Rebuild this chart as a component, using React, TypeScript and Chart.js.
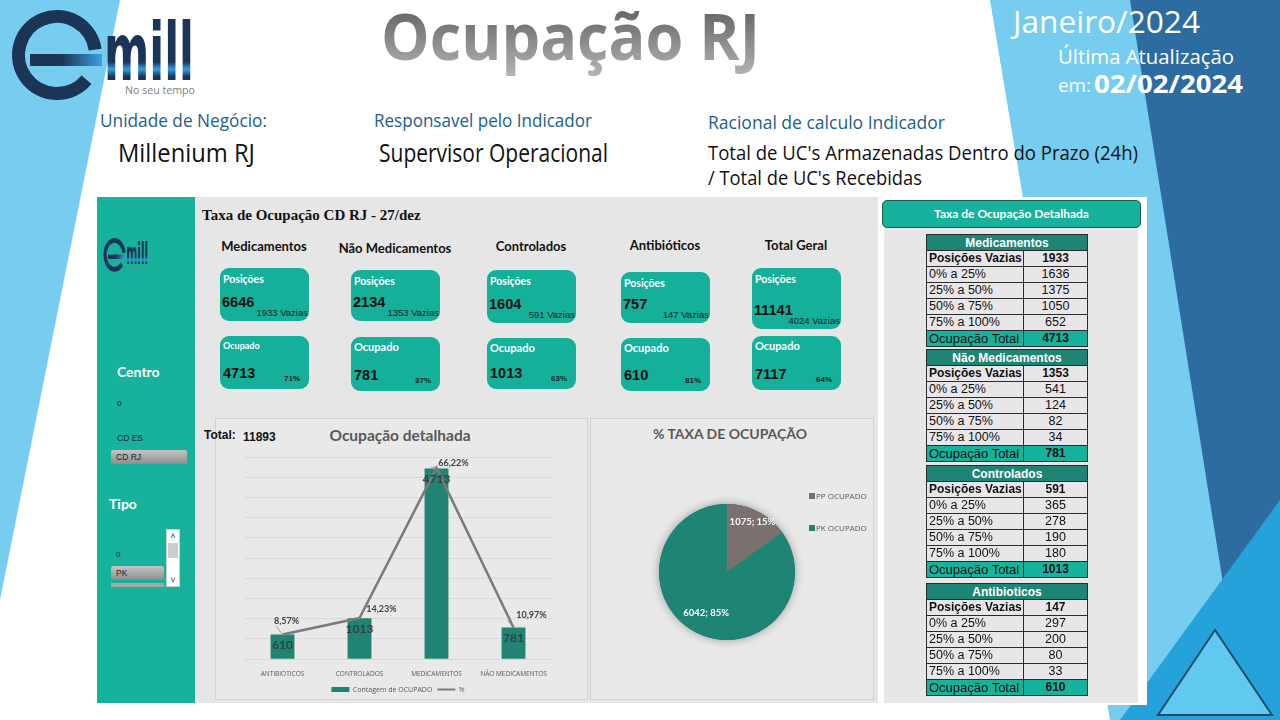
import React, { useEffect, useRef } from 'react';
import { Chart, registerables } from 'chart.js';
Chart.register(...registerables);

// ---------------- data ----------------
const chartCategories = ['ANTIBIOTICOS', 'CONTROLADOS', 'MEDICAMENTOS', 'NÃO MEDICAMENTOS'];
const ocupadoCounts = [610, 1013, 4713, 781];
const ocupadoPercent = [8.57, 14.23, 66.22, 10.97];
const totalGeral = 11893;

const pieLabels = ['PP OCUPADO', 'PK OCUPADO'];
const pieValues = [1075, 6042];

const cardTitles = ['Medicamentos', 'Não Medicamentos', 'Controlados', 'Antibióticos', 'Total Geral'];
const cardPosicoes = [6646, 2134, 1604, 757, 11141];
const cardVazias = [1933, 1353, 591, 147, 4024];
const cardOcupado = [4713, 781, 1013, 610, 7117];
const cardPct = ['71%', '37%', '63%', '81%', '64%'];

const tableNames = ['Medicamentos', 'Não Medicamentos', 'Controlados', 'Antibioticos'];
const tableVazias = [1933, 1353, 591, 147];
const rangeLabels = ['0% a 25%', '25% a 50%', '50% a 75%', '75% a 100%'];
const tableRanges = [
  [1636, 1375, 1050, 652],
  [541, 124, 82, 34],
  [365, 278, 190, 180],
  [297, 200, 80, 33],
];
const tableTotals = [4713, 781, 1013, 610];

// ---------------- styles ----------------
const LATO = "Lato, 'Open Sans', sans-serif";
const ARIAL = "'Liberation Sans', Arial, sans-serif";
const OPEN = "'Open Sans', 'Noto Sans', sans-serif";
const TEAL = '#17B29C';
const CARD = '#14B09A';
const DARK_TEAL = '#1E8474';
const BAR = '#1F8474';
const GRAYTXT = '#595959';

Chart.defaults.font.family = LATO;

type P = React.CSSProperties;
const box = (l: number, t: number, w: number, h: number, extra: P = {}): P => ({
  position: 'absolute', left: l, top: t, width: w, height: h, boxSizing: 'border-box', ...extra,
});

function Txt({ x, y, size, children, family = LATO, weight = 400, color = '#000', align = 'left', style = {} }: any) {
  const tx = align === 'center' ? '-50%' : align === 'right' ? '-100%' : '0';
  return (
    <div style={{ position: 'absolute', left: x, top: y, transform: `translate(${tx},-50%)`, fontSize: size,
      fontFamily: family, fontWeight: weight, color, whiteSpace: 'nowrap', lineHeight: 1.15, ...style }}>
      {children}
    </div>
  );
}

function Logo({ x, y, w, h, id }: any) {
  const a0 = -8 * Math.PI / 180, a1 = 40 * Math.PI / 180;
  const cx = 47, cy = 45, r = 38.5;
  const p0 = [cx + r * Math.cos(a0), cy + r * Math.sin(a0)];
  const p1 = [cx + r * Math.cos(a1), cy + r * Math.sin(a1)];
  return (
    <svg style={{ position: 'absolute', left: x, top: y, overflow: 'visible' }} width={w} height={h} viewBox="0 0 195 88" preserveAspectRatio="none">
      <defs>
        <linearGradient id={id + 'bar'} x1="0" y1="0" x2="1" y2="0">
          <stop offset="0" stopColor="#1C3456" />
          <stop offset="0.45" stopColor="#1C3456" />
          <stop offset="1" stopColor="#3AA3E0" />
        </linearGradient>
        <linearGradient id={id + 'mill'} x1="0" y1="0" x2="0" y2="1">
          <stop offset="0" stopColor="#1C3456" />
          <stop offset="0.6" stopColor="#1C3456" />
          <stop offset="0.68" stopColor="#2E9FE6" />
          <stop offset="0.76" stopColor="#1C3456" />
          <stop offset="1" stopColor="#1C3456" />
        </linearGradient>
      </defs>
      <path d={`M ${p0[0]} ${p0[1]} A ${r} ${r} 0 1 0 ${p1[0]} ${p1[1]}`} stroke="#1C3456" strokeWidth={13} fill="none" />
      <rect x={20} y={44} width={72} height={12} fill={`url(#${id}bar)`} />
      <text x={94} y={70} fontSize={80} fontFamily="'DejaVu Sans', sans-serif" fontWeight={700}
        textLength={90} lengthAdjust="spacingAndGlyphs" fill={`url(#${id}mill)`}>mill</text>
      <text x={115} y={84} fontSize={10} fontFamily={OPEN} textLength={70} lengthAdjust="spacingAndGlyphs" fill="#808080">No seu tempo</text>
    </svg>
  );
}

function SText({ x, y, size, w, children, fill = '#000', weight = 400, family = OPEN }: any) {
  return (
    <text x={x} y={y} fontSize={size} fontFamily={family} fontWeight={weight} fill={fill}
      textLength={w} lengthAdjust="spacingAndGlyphs">{children}</text>
  );
}

function Background() {
  return (
    <svg width={1280} height={720} style={{ position: 'absolute', left: 0, top: 0 }}>
      <defs>
        <linearGradient id="titleGrad" x1="0" y1="0" x2="0" y2="1">
          <stop offset="0" stopColor="#505050" />
          <stop offset="1" stopColor="#b8b8b8" />
        </linearGradient>
      </defs>
      <rect width={1280} height={720} fill="#fff" />
      <polygon points="0,0 120,0 0,600" fill="#77CDEF" />
      <polygon points="990,0 1280,0 1280,720 1110,720" fill="#77CDEF" />
      <polygon points="1130,0 1280,0 1280,560 1232,640" fill="#2C6CA0" />
      <polygon points="1120,720 1280,500 1280,720" fill="#26A2DB" />
      <polygon points="1215,630 1158,715 1272,715" fill="#5FC9EF" stroke="#1F4B66" strokeWidth={2} />

      <SText x={381} y={60} size={64} w={379} weight={700} fill="url(#titleGrad)">Ocupação RJ</SText>

      <SText x={1013} y={33} size={31} w={187} fill="#fff">Janeiro/2024</SText>
      <SText x={1058} y={64} size={20} w={176} fill="#fff">Última Atualização</SText>
      <SText x={1058} y={92} size={19} w={33} fill="#fff">em:</SText>
      <SText x={1094} y={93} size={25} w={149} fill="#fff" weight={700}>02/02/2024</SText>

      <SText x={100} y={127} size={18} w={167} fill="#22608E">Unidade de Negócio:</SText>
      <SText x={118} y={162} size={26} w={137} fill="#111">Millenium RJ</SText>
      <SText x={374} y={127} size={18} w={218} fill="#22608E">Responsavel pelo Indicador</SText>
      <SText x={379} y={162} size={26} w={229} fill="#111">Supervisor Operacional</SText>
      <SText x={708} y={129} size={18} w={237} fill="#22608E">Racional de calculo Indicador</SText>
      <SText x={708} y={160} size={20} w={430} fill="#111">Total de UC's Armazenadas Dentro do Prazo (24h)</SText>
      <SText x={708} y={185} size={20} w={214} fill="#111">/ Total de UC's Recebidas</SText>
    </svg>
  );
}

// ---------------- cards ----------------
const cardLeft = [220, 351, 487, 621, 752];
const cardTitleY = [246, 248, 246, 245, 245];
const posTop = [268, 270, 270, 272, 268];
const posH = [53, 51, 53, 51, 61];
const ocTop = [336, 337, 338, 338, 336];
const ocH = [53, 54, 51, 53, 54];

function Cards() {
  return (
    <>
      {cardTitles.map((t, i) => {
        const l = cardLeft[i];
        const w = 89;
        return (
          <React.Fragment key={t}>
            <Txt x={l + 44} y={cardTitleY[i]} size={13} weight={700} color="#111" align="center">{t}</Txt>
            <div style={box(l, posTop[i], w, posH[i], { background: CARD, borderRadius: 9 })} />
            <Txt x={l + 3} y={posTop[i] + 11} size={10.5} weight={700} color="#fff">Posições</Txt>
            <Txt x={l + 2} y={posTop[i] + posH[i] - 19} size={14.5} weight={700} family={ARIAL} color="#111">{cardPosicoes[i]}</Txt>
            <Txt x={l + w - 1} y={posTop[i] + posH[i] - 8} size={9.5} family={ARIAL} color="#222" align="right">{cardVazias[i]} Vazias</Txt>

            <div style={box(l, ocTop[i], w, ocH[i], { background: CARD, borderRadius: 9 })} />
            <Txt x={l + 3} y={ocTop[i] + 10} size={i === 0 ? 9 : 11} weight={700} color="#fff">Ocupado</Txt>
            <Txt x={l + 3} y={ocTop[i] + ocH[i] - 16} size={14.5} weight={700} family={ARIAL} color="#111">{cardOcupado[i]}</Txt>
            <Txt x={l + w - 9} y={ocTop[i] + ocH[i] - 10} size={8} weight={700} family={ARIAL} color="#222" align="right">{cardPct[i]}</Txt>
          </React.Fragment>
        );
      })}
    </>
  );
}

// ---------------- tables ----------------
const tableTops = [234, 349, 465, 583];
const BORDER = '1px solid #2b2b2b';

function DetailTable({ idx }: { idx: number }) {
  const rows = [
    { label: 'Posições Vazias', value: tableVazias[idx], bold: true },
    ...rangeLabels.map((l, j) => ({ label: l, value: tableRanges[idx][j], bold: false })),
  ];
  const rowStyle: P = { display: 'flex', height: 16, borderBottom: BORDER, boxSizing: 'border-box' };
  return (
    <div style={box(926, tableTops[idx], 162, 113, { border: BORDER, background: '#E8E6E8', fontFamily: ARIAL, color: '#111' })}>
      <div style={{ ...rowStyle, background: DARK_TEAL, color: '#fff', fontWeight: 700, fontSize: 12, justifyContent: 'center', alignItems: 'center' }}>
        {tableNames[idx]}
      </div>
      {rows.map((r) => (
        <div key={r.label} style={rowStyle}>
          <div style={{ width: 97, borderRight: BORDER, boxSizing: 'border-box', paddingLeft: 2, overflow: 'hidden', whiteSpace: 'nowrap',
            fontSize: r.bold ? 12 : 12.5, fontWeight: r.bold ? 700 : 400, lineHeight: '15px' }}>{r.label}</div>
          <div style={{ flex: 1, textAlign: 'center', fontSize: r.bold ? 12 : 12.5, fontWeight: r.bold ? 700 : 400, lineHeight: '15px' }}>{r.value}</div>
        </div>
      ))}
      <div style={{ display: 'flex', height: 15, background: TEAL }}>
        <div style={{ width: 97, borderRight: BORDER, boxSizing: 'border-box', paddingLeft: 2, whiteSpace: 'nowrap', overflow: 'hidden', fontSize: 13, lineHeight: '15px' }}>Ocupação Total</div>
        <div style={{ flex: 1, textAlign: 'center', fontSize: 12, fontWeight: 700, lineHeight: '15px' }}>{tableTotals[idx]}</div>
      </div>
    </div>
  );
}

// ---------------- charts ----------------
const fmtPct = (v: number) => v.toFixed(2).replace('.', ',') + '%';

const comboLabelPlugin = {
  id: 'comboLabels',
  afterDatasetsDraw(chart: any) {
    const ctx = chart.ctx;
    ctx.save();
    const barMeta = chart.getDatasetMeta(0);
    ctx.font = `bold 12px ${LATO}`;
    ctx.fillStyle = 'rgba(55,55,55,0.9)';
    ctx.textAlign = 'center';
    ctx.textBaseline = 'middle';
    barMeta.data.forEach((el: any, i: number) => {
      ctx.fillText(String(ocupadoCounts[i]), el.x, el.y + 11);
    });
    const lineMeta = chart.getDatasetMeta(1);
    const offs = [[4, -13], [22, -9], [17, -5], [18, -12]];
    ctx.font = `bold 9px ${LATO}`;
    ctx.fillStyle = '#404040';
    ctx.strokeStyle = '#8c8c8c';
    ctx.lineWidth = 0.8;
    lineMeta.data.forEach((el: any, i: number) => {
      const [dx, dy] = offs[i];
      const txt = fmtPct(ocupadoPercent[i]);
      const lx = el.x + dx, ly = el.y + dy;
      const tw = ctx.measureText(txt).width;
      const left = lx - tw / 2;
      ctx.beginPath();
      if (left > el.x + 3) {
        ctx.moveTo(el.x + 1, el.y - 1);
        ctx.lineTo(left - 2, ly);
        ctx.lineTo(left - 1, ly);
      } else {
        ctx.moveTo(el.x - 1, el.y - 1);
        ctx.lineTo(el.x - 6, ly + 5);
      }
      ctx.stroke();
      ctx.fillText(txt, lx, ly);
    });
    ctx.restore();
  },
};

function ComboChart() {
  const ref = useRef<HTMLCanvasElement>(null);
  useEffect(() => {
    const chart = new Chart(ref.current!, {
      type: 'bar',
      data: {
        labels: chartCategories,
        datasets: [
          { type: 'bar', label: 'Contagem de OCUPADO', data: ocupadoCounts, backgroundColor: BAR, yAxisID: 'y', order: 1,
            categoryPercentage: 1, barPercentage: 0.31 } as any,
          { type: 'line', label: '%', data: ocupadoPercent, borderColor: '#7B7B7B', backgroundColor: '#7B7B7B', borderWidth: 2.5,
            pointRadius: 0, yAxisID: 'y1', order: 0, tension: 0 } as any,
        ],
      },
      options: {
        animation: false,
        responsive: false,
        maintainAspectRatio: false,
        layout: { padding: { left: 29, right: 35, top: 12, bottom: 0 } },
        scales: {
          x: {
            grid: { display: false },
            border: { color: '#D9D9D9' },
            ticks: { font: { size: 6.5, family: OPEN }, color: GRAYTXT, padding: 3, maxRotation: 0, autoSkip: false },
          },
          y: {
            min: 0, max: 5000,
            ticks: { display: false, stepSize: 500 },
            grid: { color: '#D9D9D9', drawTicks: false },
            border: { display: false },
          },
          y1: { display: false, min: 0, max: 70, position: 'right' },
        },
        plugins: {
          tooltip: { enabled: false },
          legend: {
            position: 'bottom',
            labels: {
              usePointStyle: true,
              pointStyleWidth: 18,
              boxHeight: 5,
              padding: 5,
              color: GRAYTXT,
              font: { size: 7, family: OPEN },
              generateLabels: (c: any) => {
                const items = (Chart.defaults.plugins.legend.labels as any).generateLabels(c);
                return items
                  .map((it: any) => ({ ...it, pointStyle: it.datasetIndex === 0 ? 'rect' : 'line', lineWidth: it.datasetIndex === 0 ? 0 : 2 }))
                  .sort((a: any, b: any) => a.datasetIndex - b.datasetIndex);
              },
            },
          },
        },
      },
      plugins: [comboLabelPlugin],
    } as any);
    return () => chart.destroy();
  }, []);
  return <canvas ref={ref} width={372} height={258} style={{ position: 'absolute', left: 215, top: 445, width: 372, height: 258 }} />;
}

const pieShadowPlugin = {
  id: 'pieShadow',
  beforeDatasetsDraw(chart: any) {
    const arc = chart.getDatasetMeta(0).data[0];
    if (!arc) return;
    const ctx = chart.ctx;
    ctx.save();
    ctx.shadowColor = 'rgba(0,0,0,0.35)';
    ctx.shadowBlur = 10;
    ctx.fillStyle = '#1E8474';
    ctx.beginPath();
    ctx.arc(arc.x, arc.y, arc.outerRadius, 0, Math.PI * 2);
    ctx.fill();
    ctx.restore();
  },
};

const pieLabelPlugin = {
  id: 'pieLabels',
  afterDatasetsDraw(chart: any) {
    const ctx = chart.ctx;
    const meta = chart.getDatasetMeta(0);
    const total = pieValues.reduce((a, b) => a + b, 0);
    const factors = [0.82, 0.67];
    ctx.save();
    ctx.font = `bold 9.5px ${LATO}`;
    ctx.fillStyle = '#fff';
    ctx.textAlign = 'center';
    ctx.textBaseline = 'middle';
    meta.data.forEach((arc: any, i: number) => {
      const mid = (arc.startAngle + arc.endAngle) / 2;
      const r = arc.outerRadius * factors[i];
      const x = arc.x + Math.cos(mid) * r;
      const y = arc.y + Math.sin(mid) * r;
      ctx.fillText(`${pieValues[i]}; ${Math.round((pieValues[i] / total) * 100)}%`, x, y);
    });
    ctx.restore();
  },
};

function PieChart() {
  const ref = useRef<HTMLCanvasElement>(null);
  useEffect(() => {
    const chart = new Chart(ref.current!, {
      type: 'pie',
      data: {
        labels: pieLabels,
        datasets: [{ data: pieValues, backgroundColor: ['#7A716E', '#1E8474'], borderWidth: 0 }],
      },
      options: {
        animation: false,
        responsive: false,
        maintainAspectRatio: false,
        layout: { padding: 32 },
        plugins: { legend: { display: false }, tooltip: { enabled: false } },
      },
      plugins: [pieShadowPlugin, pieLabelPlugin],
    } as any);
    return () => chart.destroy();
  }, []);
  return <canvas ref={ref} width={200} height={200} style={{ position: 'absolute', left: 627, top: 472, width: 200, height: 200 }} />;
}

// ---------------- sidebar ----------------
const btn = (l: number, t: number, w: number, h: number): P =>
  box(l, t, w, h, { background: 'linear-gradient(#c4c4c4, #8d8d8d)', borderRadius: 2, fontFamily: ARIAL, fontSize: 8.5, color: '#222', paddingLeft: 5, lineHeight: h + 'px' });

function Sidebar() {
  return (
    <>
      <div style={box(97, 197, 98, 506, { background: TEAL })} />
      <Logo x={103} y={238} w={48} h={33} id="small" />
      <Txt x={117} y={372} size={14} weight={700} color="#fff">Centro</Txt>
      <Txt x={117} y={404} size={8} family={ARIAL} color="#123">0</Txt>
      <Txt x={117} y={439} size={8.5} family={ARIAL} color="#123">CD ES</Txt>
      <div style={btn(111, 450, 76, 14)}>CD RJ</div>
      <Txt x={109} y={504} size={14} weight={700} color="#fff">Tipo</Txt>
      <Txt x={116} y={555} size={8} family={ARIAL} color="#123">0</Txt>
      <div style={btn(111, 566, 53, 14)}>PK</div>
      <div style={box(111, 583, 53, 4, { background: '#a8a8a8' })} />
      <div style={box(166, 529, 14, 58, { background: '#fff', border: '1px solid #cfcfcf' })}>
        <div style={{ fontSize: 9, fontFamily: ARIAL, textAlign: 'center', lineHeight: '12px', color: '#333' }}>˄</div>
        <div style={{ margin: '1px 1px', height: 15, background: '#cdcdcd' }} />
        <div style={{ position: 'absolute', bottom: 0, left: 0, right: 0, fontSize: 9, fontFamily: ARIAL, textAlign: 'center', lineHeight: '12px', color: '#333' }}>˅</div>
      </div>
    </>
  );
}

export default function App() {
  return (
    <div style={{ position: 'absolute', left: 0, top: 0, width: 1280, height: 720, overflow: 'hidden', background: '#fff', fontFamily: LATO }}>
      <Background />
      <Logo x={10} y={10} w={195} h={88} id="big" />

      {/* main dashboard panel */}
      <div style={box(97, 197, 781, 506, { background: '#E6E6E6' })} />
      <Sidebar />
      <Txt x={202} y={216} size={15} weight={700} family="'Liberation Serif', 'Times New Roman', serif" color="#111">Taxa de Ocupação CD RJ - 27/dez</Txt>
      <Cards />

      {/* combo chart panel */}
      <div style={box(215, 418, 373, 282, { background: '#E9E9E9', border: '1px solid #d2d2d2' })} />
      <Txt x={204} y={436} size={12} weight={700} family={ARIAL} color="#111">Total:</Txt>
      <Txt x={243} y={438} size={12} weight={700} family={ARIAL} color="#111">{totalGeral}</Txt>
      <Txt x={400} y={436} size={15.5} weight={700} color={GRAYTXT} align="center">Ocupação detalhada</Txt>
      <ComboChart />

      {/* pie panel */}
      <div style={box(590, 418, 284, 282, { background: '#E9E9E9', border: '1px solid #d2d2d2' })} />
      <Txt x={730} y={434} size={14} weight={700} color={GRAYTXT} align="center">% TAXA DE OCUPAÇÃO</Txt>
      <PieChart />
      <div style={box(809, 493, 6, 6, { background: '#7A716E' })} />
      <Txt x={816} y={496} size={8} family={OPEN} color={GRAYTXT}>{pieLabels[0]}</Txt>
      <div style={box(809, 525, 6, 6, { background: '#1E8474' })} />
      <Txt x={816} y={528} size={8} family={OPEN} color={GRAYTXT}>{pieLabels[1]}</Txt>

      {/* right detail panel */}
      <div style={box(880, 197, 267, 508, { background: '#fff' })} />
      <div style={box(884, 228, 254, 475, { background: '#E8E6E8' })} />
      <div style={box(882, 200, 259, 28, { background: TEAL, border: '1px solid #1D5A50', borderRadius: 5, color: '#fff',
        fontWeight: 700, fontSize: 12, textAlign: 'center', lineHeight: '26px', fontFamily: LATO })}>Taxa de Ocupação Detalhada</div>
      {tableNames.map((_, i) => <DetailTable key={i} idx={i} />)}
    </div>
  );
}
